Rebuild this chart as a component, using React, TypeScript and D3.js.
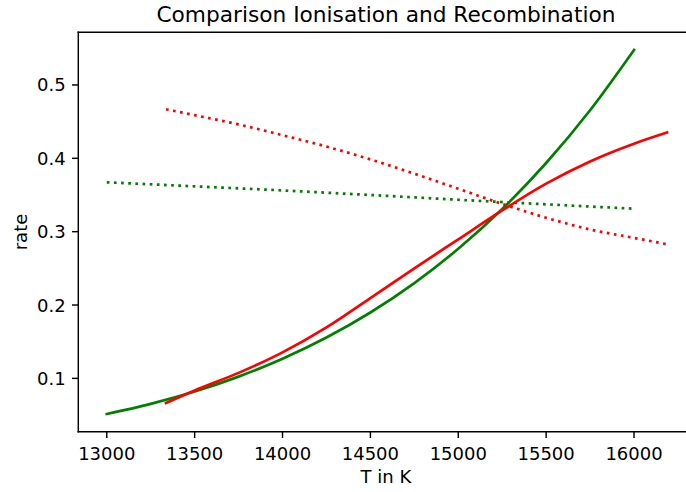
import React from "react";
import * as d3 from "d3";

const W = 686;
const H = 492;

const title = "Comparison Ionisation and Recombination";
const xLabel = "T in K";
const yLabel = "rate";

const xTicks = [13000, 13500, 14000, 14500, 15000, 15500, 16000];
const yTicks = [0.1, 0.2, 0.3, 0.4, 0.5];

// green series temperatures
const tempGreen = [13000, 13250, 13500, 13750, 14000, 14250, 14500, 14750, 15000, 15250, 15500, 15750, 16000];
const ionGreen = [0.0515, 0.0653, 0.0821, 0.1024, 0.1268, 0.1557, 0.1898, 0.2299, 0.2767, 0.3309, 0.3936, 0.4655, 0.5477];

const tempGreenDot = [13000, 13500, 14000, 14500, 15000, 15500, 16000];
const recGreen = [0.3673, 0.3618, 0.3562, 0.35, 0.3435, 0.3373, 0.3313];

// red series temperatures
const tempRed = [13337, 13500, 13750, 14000, 14250, 14500, 14750, 15000, 15250, 15500, 15750, 16000, 16188];
const ionRed = [0.0665, 0.0836, 0.1075, 0.1355, 0.1695, 0.2095, 0.25, 0.2895, 0.3289, 0.3655, 0.3958, 0.42, 0.4352];
const recRed = [0.4669, 0.4588, 0.4462, 0.4315, 0.416, 0.3985, 0.379, 0.3585, 0.3378, 0.319, 0.303, 0.2915, 0.2828];

const LEFT = 78.3;
const RIGHT = 693.6;
const TOP = 32.3;
const BOTTOM = 431.7;

const FONT = "DejaVu Sans, sans-serif";

export default function App() {
  const x = d3.scaleLinear().domain([12838, 16339]).range([LEFT, RIGHT]);
  const y = d3.scaleLinear().domain([0.0273, 0.5718]).range([BOTTOM, TOP]);

  const mk = (ts: number[], vs: number[]) =>
    d3
      .line<number>()
      .x((_, i) => x(ts[i]))
      .y((v) => y(v))
      .curve(d3.curveMonotoneX)(vs) as string;

  const lw = 2.7;
  const dash = "2.7 4.46";
  const tickLen = 6.3;
  const sw = 1.44;

  return (
    <svg
      width={W}
      height={H}
      style={{ position: "absolute", left: 0, top: 0, background: "#fff" }}
      fontFamily={FONT}
    >
      <rect x={0} y={0} width={W} height={H} fill="#fff" />
      <path d={mk(tempGreenDot, recGreen)} fill="none" stroke="#008000" strokeWidth={lw} strokeDasharray={dash} />
      <path d={mk(tempRed, recRed)} fill="none" stroke="#ff0000" strokeWidth={lw} strokeDasharray={dash} />
      <path d={mk(tempGreen, ionGreen)} fill="none" stroke="#008000" strokeWidth={lw} strokeLinecap="square" />
      <path d={mk(tempRed, ionRed)} fill="none" stroke="#ff0000" strokeWidth={lw} strokeLinecap="square" />

      {/* spines */}
      <line x1={LEFT} x2={LEFT} y1={TOP} y2={BOTTOM} stroke="#000" strokeWidth={sw} strokeLinecap="square" />
      <line x1={LEFT} x2={RIGHT} y1={BOTTOM} y2={BOTTOM} stroke="#000" strokeWidth={sw} strokeLinecap="square" />
      <line x1={LEFT} x2={RIGHT} y1={TOP} y2={TOP} stroke="#000" strokeWidth={sw} strokeLinecap="square" />
      <line x1={RIGHT} x2={RIGHT} y1={TOP} y2={BOTTOM} stroke="#000" strokeWidth={sw} strokeLinecap="square" />

      {xTicks.map((t) => (
        <g key={"x" + t}>
          <line x1={x(t)} x2={x(t)} y1={BOTTOM} y2={BOTTOM + tickLen} stroke="#000" strokeWidth={sw} />
          <text x={x(t)} y={459.5} fontSize={18} textAnchor="middle" fill="#000">
            {t}
          </text>
        </g>
      ))}
      {yTicks.map((t) => (
        <g key={"y" + t}>
          <line x1={LEFT - tickLen} x2={LEFT} y1={y(t)} y2={y(t)} stroke="#000" strokeWidth={sw} />
          <text x={LEFT - 12.6} y={y(t) + 6.5} fontSize={18} textAnchor="end" fill="#000">
            {t.toFixed(1)}
          </text>
        </g>
      ))}

      <text x={(LEFT + RIGHT) / 2} y={483.3} fontSize={18} textAnchor="middle" fill="#000">
        {xLabel}
      </text>
      <text
        transform={`translate(26.7, ${(TOP + BOTTOM) / 2}) rotate(-90)`}
        fontSize={18}
        textAnchor="middle"
        fill="#000"
      >
        {yLabel}
      </text>
      <text x={(LEFT + RIGHT) / 2} y={21.5} fontSize={21.7} textAnchor="middle" fill="#000">
        {title}
      </text>
    </svg>
  );
}
